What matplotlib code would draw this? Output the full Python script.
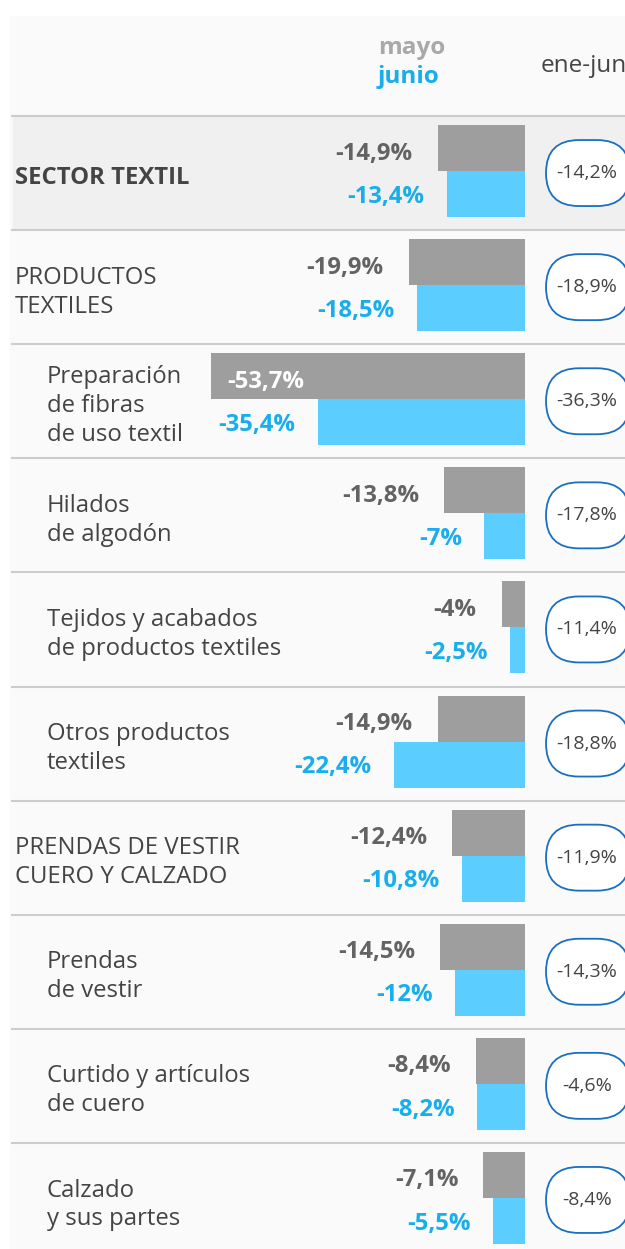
import matplotlib.pyplot as plt
from matplotlib.patches import Rectangle, FancyBboxPatch

plt.rcParams['font.family'] = ['Open Sans', 'DejaVu Sans']

labels = ['SECTOR TEXTIL', 'PRODUCTOS\nTEXTILES', 'Preparación\nde fibras\nde uso textil',
          'Hilados\nde algodón', 'Tejidos y acabados\nde productos textiles',
          'Otros productos\ntextiles', 'PRENDAS DE VESTIR\nCUERO Y CALZADO',
          'Prendas\nde vestir', 'Curtido y artículos\nde cuero', 'Calzado\ny sus partes']
indented = [False, False, True, True, True, True, False, True, True, True]
mayo = [-14.9, -19.9, -53.7, -13.8, -4.0, -14.9, -12.4, -14.5, -8.4, -7.1]
junio = [-13.4, -18.5, -35.4, -7.0, -2.5, -22.4, -10.8, -12.0, -8.2, -5.5]
ene_jun = [-14.2, -18.9, -36.3, -17.8, -11.4, -18.8, -11.9, -14.3, -4.6, -8.4]

W, H = 625, 1249
PX = 5.85          # pixels per percentage point
BAR_RIGHT = 525
TOP = 116
ROW_H = 114.1

GRAY = '#9e9e9e'
BLUE = '#5bcdff'
BLUE_TXT = '#18aeec'
GRAY_TXT = '#636363'
LABEL_TXT = '#444444'
FS = 17.2


def fmt(v):
    if v == int(v):
        s = f'{v:.0f}%'
    else:
        s = f'{v:.1f}%'
    return s.replace('.', ',')


fig = plt.figure(figsize=(W / 100, H / 100), dpi=100)
ax = fig.add_axes([0, 0, 1, 1])
ax.set_xlim(0, W)
ax.set_ylim(H, 0)
ax.axis('off')

# panel backgrounds
ax.add_patch(Rectangle((10, 16), W - 10, H - 16, color='#fafafa', zorder=0))
ax.add_patch(Rectangle((13, TOP + 1), W - 13, ROW_H - 2, color='#f0f0f0', zorder=0))

# header
ax.text(412, 48, 'mayo', ha='center', va='center', fontsize=17.5, fontweight='bold', color='#a9a9a9')
ax.text(408, 77, 'junio', ha='center', va='center', fontsize=17.5, fontweight='bold', color=BLUE_TXT)
ax.text(541, 66, 'ene-jun', ha='left', va='center', fontsize=17.5, color='#444444')

# bar axes: x in percent, y in pixels
bx = fig.add_axes([0, 0, BAR_RIGHT / W, 1])
bx.set_xlim(-BAR_RIGHT / PX, 0)
bx.set_ylim(H, 0)
bx.axis('off')
bx.patch.set_alpha(0)

for i in range(len(labels)):
    top = TOP + i * ROW_H
    mid = top + ROW_H / 2
    ax.plot([12, W], [top, top], color='#cccccc', lw=1.5, zorder=1)

    x_lab = 47 if indented[i] else 15
    weight = 'bold' if i == 0 else 'normal'
    ax.text(x_lab, mid + 5, labels[i], ha='left', va='center', fontsize=FS,
            fontweight=weight, color=LABEL_TXT, linespacing=1.27)

    yg = top + 9 + 23
    yb = top + 55 + 23
    bx.barh(yg, mayo[i], height=46, color=GRAY, zorder=2)
    bx.barh(yb, junio[i], height=46, color=BLUE, zorder=2)

    if mayo[i] < -50:
        bx.annotate(fmt(mayo[i]), xy=(mayo[i], yg), xytext=(12, -4), textcoords='offset points',
                    ha='left', va='center', fontsize=FS, fontweight='bold', color='white', zorder=3)
    else:
        bx.annotate(fmt(mayo[i]), xy=(mayo[i], yg), xytext=(-18, -4), textcoords='offset points',
                    ha='right', va='center', fontsize=FS, fontweight='bold', color=GRAY_TXT, zorder=3)
    bx.annotate(fmt(junio[i]), xy=(junio[i], yb), xytext=(-16, -2), textcoords='offset points',
                ha='right', va='center', fontsize=FS, fontweight='bold', color=BLUE_TXT, zorder=3)

    ax.add_patch(FancyBboxPatch((546, mid - 33), 84, 66,
                                boxstyle='round,pad=0,rounding_size=33',
                                facecolor='white', edgecolor='#1a6fc0', lw=1.3, zorder=2))
    ax.text(587, mid, fmt(ene_jun[i]), ha='center', va='center', fontsize=14,
            color='#444444', zorder=3)

fig.savefig('out.png', dpi=100)
